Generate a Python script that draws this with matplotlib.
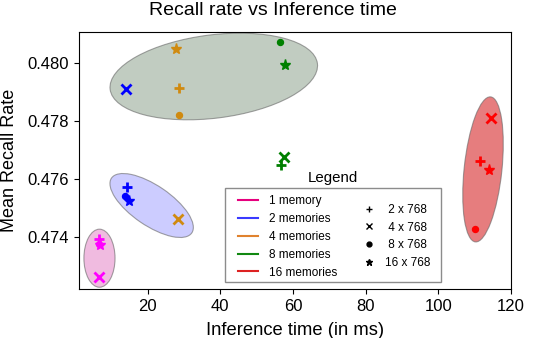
import matplotlib
matplotlib.use("Agg")
import matplotlib.pyplot as plt
from matplotlib.patches import Ellipse, Rectangle
from matplotlib.lines import Line2D
from matplotlib.transforms import ScaledTranslation

plt.rcParams['font.family'] = ['Liberation Sans', 'DejaVu Sans']

# shapes, in this order for every memory count
shape_labels = [' 2 x 768', ' 4 x 768', ' 8 x 768', '16 x 768']
shape_markers = ['+', 'x', 'o', '*']

mem_labels = ['1 memory', '2 memories', '4 memories', '8 memories', '16 memories']
mem_colors = ['magenta', 'blue', '#d08a10', 'green', 'red']
legend_colors = ['#e6007e', '#3a3aff', '#e0822e', '#118811', '#dd2222']

# inference time (ms) and mean recall per memory count
time_1mem = [6.6, 6.7, 6.7, 6.8]
recall_1mem = [0.47394, 0.47264, 0.47378, 0.47375]
time_2mem = [14.2, 13.95, 13.8, 14.95]
recall_2mem = [0.47571, 0.47908, 0.47542, 0.47525]
time_4mem = [28.6, 28.4, 28.7, 27.7]
recall_4mem = [0.47913, 0.47461, 0.47820, 0.48045]
time_8mem = [56.6, 57.5, 56.4, 57.9]
recall_8mem = [0.47649, 0.47675, 0.48069, 0.47990]
time_16mem = [111.6, 114.5, 110.2, 114.0]
recall_16mem = [0.47661, 0.47809, 0.47427, 0.47632]

times = [time_1mem, time_2mem, time_4mem, time_8mem, time_16mem]
recalls = [recall_1mem, recall_2mem, recall_4mem, recall_8mem, recall_16mem]

# cluster ellipses: centre (data), half axes (points), angle (deg)
ell_x = [6.74, 21.1, 38.2, 112.3]
ell_y = [0.47328, 0.47509, 0.47952, 0.47633]
ell_a = [20.9, 35.0, 75.2, 52.5]
ell_b = [11.2, 14.4, 30.0, 13.6]
ell_ang = [90, -34.3, 7.1, 84]
ell_colors = [(0.89, 0.47, 0.76, 0.5), (0.0, 0.0, 1.0, 0.2),
              (0.2, 0.35, 0.2, 0.3), (0.84, 0.15, 0.16, 0.6)]

fig = plt.figure(figsize=(5.38, 3.38), dpi=100)
ax = fig.add_axes([0.1468, 0.145, 0.803, 0.7612])

for cx, cy, a, b, ang, c in zip(ell_x, ell_y, ell_a, ell_b, ell_ang, ell_colors):
    tr = fig.dpi_scale_trans + ScaledTranslation(cx, cy, ax.transData)
    e = Ellipse((0, 0), 2 * a / 72, 2 * b / 72, angle=ang, transform=tr,
                facecolor=c, edgecolor=(0.4, 0.4, 0.4, 0.6), linewidth=0.8, zorder=1)
    ax.add_patch(e)

sizes = {'+': 7, 'x': 6.5, 'o': 4.3, '*': 8}
for t, r, col in zip(times, recalls, mem_colors):
    for xi, yi, m in zip(t, r, shape_markers):
        ax.plot(xi, yi, linestyle='none', marker=m, color=col,
                markersize=sizes[m], markeredgewidth=2 if m in '+x' else 1, zorder=3)

ax.set_xlim(1.1, 120)
ax.set_ylim(0.472223, 0.481058)
ax.set_xticks([20, 40, 60, 80, 100, 120])
ax.set_yticks([0.474, 0.476, 0.478, 0.480])
ax.set_yticklabels(['0.474', '0.476', '0.478', '0.480'])
ax.tick_params(labelsize=12)
ax.set_xlabel('Inference time (in ms)', fontsize=13.2, labelpad=6)
ax.set_ylabel('Mean Recall Rate', fontsize=13, labelpad=7)
fig.text(0.508, 0.97, 'Recall rate vs Inference time', ha='center', va='center', fontsize=14)

# legend frame and title
ax.add_patch(Rectangle((0.338, 0.026), 0.4993, 0.3653, transform=ax.transAxes,
                       facecolor='white', edgecolor='0.55', linewidth=1, zorder=4))
ax.text(0.587, 0.431, 'Legend', transform=ax.transAxes, ha='center', va='center',
        fontsize=10.8, zorder=5)

mem_handles = [Line2D([], [], color=c, lw=1.5) for c in legend_colors]
leg1 = ax.legend(mem_handles, mem_labels, loc='center left', bbox_to_anchor=(0.369, 0.203),
                 frameon=False, fontsize=8.5, handlelength=1.7, handletextpad=0.93,
                 borderpad=0, borderaxespad=0, labelspacing=0.5)
leg1.set_zorder(6)
ax.add_artist(leg1)

shape_handles = [Line2D([], [], color='black', linestyle='none', marker=m,
                        markersize=5 if m != 'o' else 3.5) for m in shape_markers]
leg2 = ax.legend(shape_handles, shape_labels, loc='center left', bbox_to_anchor=(0.658, 0.204),
                 frameon=False, fontsize=8.5, handlelength=1.0, handletextpad=0.83,
                 borderpad=0, borderaxespad=0, labelspacing=0.5)
leg2.set_zorder(6)

fig.savefig('out.png', dpi=100)
